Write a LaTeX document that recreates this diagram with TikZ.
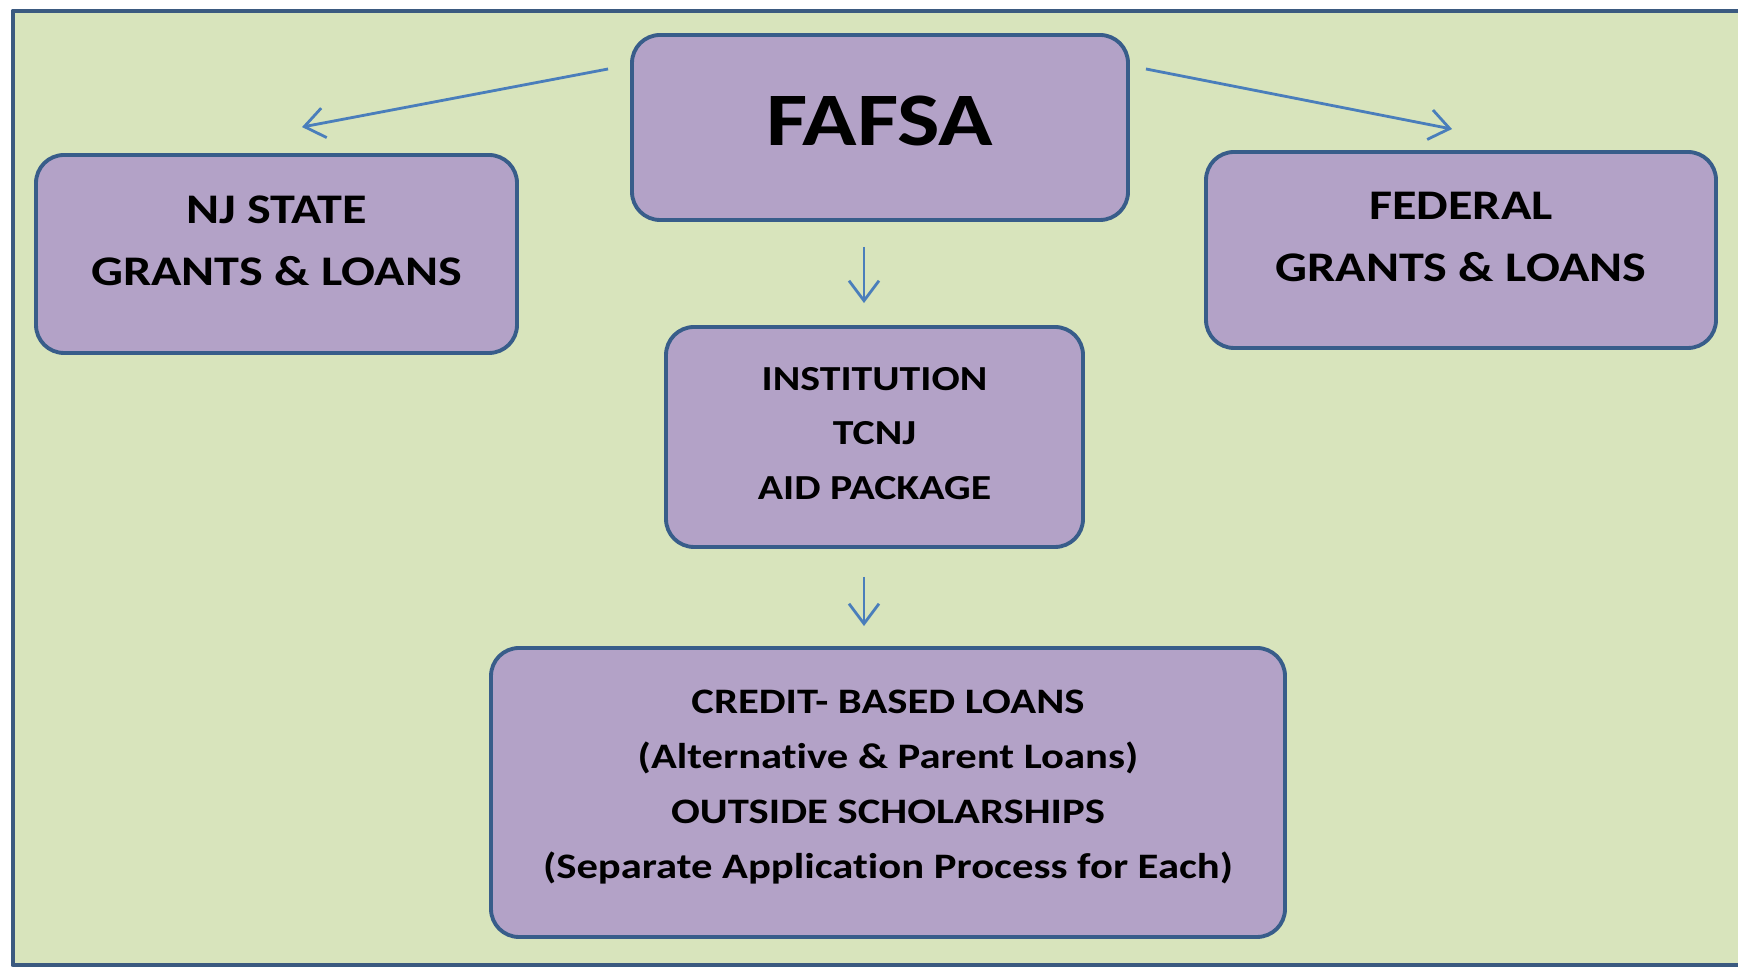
\documentclass[tikz,border=0pt]{standalone}
\usepackage{fontspec}
\setmainfont{Carlito}[FakeStretch=1.19,Ligatures=NoCommon]
\usetikzlibrary{arrows.meta}

\definecolor{bggreen}{HTML}{D8E4BC}
\definecolor{boxfill}{HTML}{B3A2C7}
\definecolor{boxline}{HTML}{385D8A}
\definecolor{arrowblue}{HTML}{4A7EBB}
\definecolor{frameline}{HTML}{3B5A80}

\begin{document}
\begin{tikzpicture}[>={Straight Barb[length=2mm,width=3mm]},line join=round,main node/.style={rectangle,rounded corners=0.28cm,draw=boxline,fill=boxfill,line width=1.1pt,align=center,inner sep=0pt,font=\bfseries}]
    \useasboundingbox (0,0) rectangle (17.38,9.68);
    \draw[frameline,line width=1.4pt,fill=bggreen] (0.13,0.03) rectangle (17.5,9.57);

    \node[main node,minimum width=4.96cm,minimum height=1.85cm,text depth=4pt,font=\bfseries\fontsize{21.5}{26}\selectfont] (1) at (8.80,8.405) {FAFSA};
    \node[main node,minimum width=4.81cm,minimum height=1.98cm,text depth=7.4pt,font=\bfseries\fontsize{12}{17.6}\selectfont] (2) at (2.765,7.14) {NJ STATE\\GRANTS \& LOANS};
    \node[main node,minimum width=5.10cm,minimum height=1.96cm,text depth=7.6pt,font=\bfseries\fontsize{12}{17.6}\selectfont] (3) at (14.61,7.18) {FEDERAL\\GRANTS \& LOANS};
    \node[main node,minimum width=4.17cm,minimum height=2.20cm,text depth=2pt,font=\bfseries\fontsize{10}{15.5}\selectfont] (4) at (8.745,5.31) {INSTITUTION\\TCNJ\\AID PACKAGE};
    \node[main node,minimum width=7.94cm,minimum height=2.89cm,text depth=4.7pt,font=\bfseries\fontsize{10.2}{15.6}\selectfont] (5) at (8.88,1.755) {CREDIT- BASED LOANS\\(Alternative \& Parent Loans)\\OUTSIDE SCHOLARSHIPS\\(Separate Application Process for Each)};

    \path[->,arrowblue,line width=0.8pt]
        ([xshift=-0.22cm,yshift=0.585cm]1.west) edge ([xshift=0.255cm,yshift=0.26cm]2.north)
        ([xshift=0.16cm,yshift=0.585cm]1.east) edge ([xshift=-0.09cm,yshift=0.21cm]3.north)
        ([xshift=-0.16cm]1.south) edge[shorten <=0.25cm,shorten >=0.22cm] ([xshift=-0.105cm]4.north)
        ([xshift=-0.105cm]4.south) edge[shorten <=0.28cm,shorten >=0.2cm] ([xshift=-0.24cm]5.north)
        ;
\end{tikzpicture}
\end{document}
